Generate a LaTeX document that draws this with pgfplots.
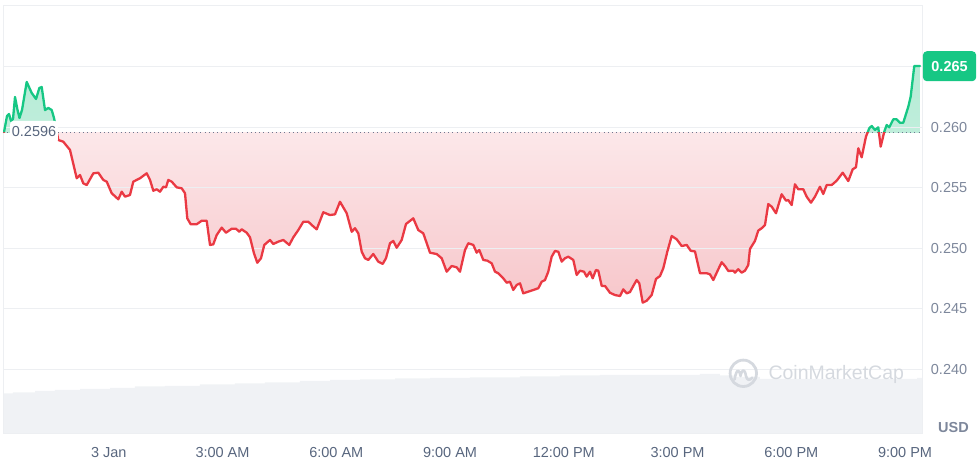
\documentclass[border=0pt]{standalone}
\usepackage{pgfplots}
\pgfplotsset{compat=1.18}
\usepackage{pgfplotstable}
\usepackage{fontspec}
\setmainfont{Liberation Sans}
\definecolor{cmcgreen}{HTML}{16C784}
\definecolor{cmcred}{HTML}{EA3943}
\definecolor{gridgray}{HTML}{EDEFF2}
\definecolor{labgray}{HTML}{7D879B}
\definecolor{labdark}{HTML}{58667E}
\definecolor{volgray}{HTML}{F0F2F5}
\definecolor{wmgray}{HTML}{D5D9DF}
\definecolor{dotgray}{HTML}{6F7890}
\definecolor{greenfill}{HTML}{B4EBD5}
\definecolor{greenlight}{HTML}{DDF6EC}
\definecolor{redfill}{HTML}{F7C6CA}
\definecolor{redlight}{HTML}{FEF5F6}

\pgfplotstableread{
h p
-2.762 0.25960
-2.683 0.26093
-2.631 0.26109
-2.578 0.26051
-2.525 0.26068
-2.472 0.26250
-2.406 0.26142
-2.354 0.26076
-2.288 0.26142
-2.164 0.26374
-2.032 0.26283
-1.918 0.26233
-1.831 0.26324
-1.768 0.26332
-1.681 0.26142
-1.594 0.26159
-1.504 0.26142
-1.444 0.26076
-1.330 0.25894
-1.199 0.25880
-1.022 0.25812
-0.845 0.25578
-0.758 0.25605
-0.671 0.25536
-0.581 0.25522
-0.407 0.25619
-0.276 0.25624
-0.144 0.25564
-0.054 0.25550
0.078 0.25454
0.252 0.25404
0.342 0.25467
0.429 0.25426
0.560 0.25440
0.647 0.25550
0.824 0.25578
1.001 0.25619
1.088 0.25564
1.175 0.25475
1.264 0.25487
1.351 0.25467
1.439 0.25508
1.510 0.25503
1.570 0.25564
1.660 0.25550
1.792 0.25503
1.924 0.25495
2.011 0.25454
2.071 0.25247
2.161 0.25198
2.319 0.25198
2.451 0.25227
2.583 0.25227
2.670 0.25027
2.757 0.25032
2.847 0.25109
2.979 0.25170
3.092 0.25128
3.242 0.25161
3.356 0.25161
3.443 0.25136
3.506 0.25156
3.638 0.25128
3.725 0.25090
3.830 0.24958
3.917 0.24880
4.015 0.24917
4.102 0.25027
4.252 0.25068
4.339 0.25035
4.471 0.25054
4.603 0.25068
4.761 0.25027
4.867 0.25090
4.999 0.25150
5.131 0.25219
5.262 0.25219
5.352 0.25192
5.484 0.25156
5.658 0.25297
5.835 0.25274
5.966 0.25280
6.098 0.25384
6.275 0.25289
6.407 0.25136
6.494 0.25165
6.581 0.25123
6.671 0.24971
6.758 0.24917
6.845 0.24903
6.976 0.24952
7.108 0.24889
7.224 0.24870
7.311 0.24917
7.417 0.25041
7.504 0.25060
7.594 0.25004
7.725 0.25068
7.839 0.25200
8.031 0.25247
8.163 0.25150
8.295 0.25123
8.472 0.24963
8.648 0.24952
8.780 0.24917
8.912 0.24806
9.044 0.24853
9.176 0.24842
9.263 0.24806
9.395 0.24985
9.482 0.25041
9.614 0.25027
9.703 0.24963
9.772 0.24985
9.877 0.24903
9.983 0.24897
10.099 0.24875
10.186 0.24806
10.273 0.24793
10.405 0.24751
10.494 0.24715
10.581 0.24723
10.668 0.24655
10.758 0.24696
10.845 0.24710
10.932 0.24627
11.064 0.24641
11.196 0.24655
11.328 0.24669
11.417 0.24723
11.504 0.24737
11.591 0.24806
11.681 0.24930
11.768 0.24977
11.855 0.24971
11.945 0.24889
12.032 0.24917
12.119 0.24930
12.251 0.24903
12.340 0.24779
12.427 0.24814
12.533 0.24806
12.604 0.24765
12.691 0.24806
12.762 0.24751
12.849 0.24820
12.910 0.24814
13.000 0.24688
13.087 0.24688
13.218 0.24632
13.350 0.24613
13.482 0.24605
13.569 0.24660
13.659 0.24627
13.746 0.24638
13.833 0.24688
13.922 0.24737
13.991 0.24710
14.081 0.24550
14.186 0.24566
14.318 0.24613
14.432 0.24746
14.537 0.24770
14.624 0.24834
14.730 0.24971
14.846 0.25101
14.977 0.25074
15.109 0.25018
15.241 0.25027
15.347 0.24979
15.460 0.24973
15.592 0.24793
15.769 0.24793
15.856 0.24784
15.943 0.24737
16.075 0.24826
16.164 0.24884
16.251 0.24853
16.338 0.24812
16.470 0.24814
16.515 0.24798
16.602 0.24826
16.691 0.24798
16.778 0.24814
16.865 0.24861
16.910 0.24994
17.042 0.25060
17.129 0.25146
17.219 0.25165
17.306 0.25192
17.393 0.25365
17.483 0.25343
17.596 0.25289
17.746 0.25446
17.860 0.25393
17.920 0.25398
18.010 0.25357
18.097 0.25528
18.184 0.25487
18.316 0.25487
18.405 0.25426
18.519 0.25376
18.624 0.25426
18.756 0.25508
18.843 0.25448
18.933 0.25522
19.065 0.25522
19.197 0.25558
19.355 0.25624
19.503 0.25555
19.619 0.25652
19.706 0.25669
19.767 0.25826
19.856 0.25751
19.969 0.25922
20.056 0.25991
20.120 0.26010
20.207 0.25977
20.294 0.25999
20.357 0.25839
20.452 0.25963
20.515 0.26018
20.584 0.25999
20.689 0.26065
20.779 0.26065
20.866 0.26037
20.953 0.26037
21.085 0.26169
21.148 0.26252
21.243 0.26506
21.393 0.26506
}\pricetable

\pgfplotstableread{
h v
-2.789 39.5
-2.526 40.5
-1.945 42
-1.418 43
-0.758 44
0.033 45
0.692 46.5
1.483 47
2.406 48.5
3.329 49.5
4.120 50.5
5.043 52
5.835 53
6.626 53.5
7.549 54.5
8.472 55
9.526 55.5
10.845 56.5
11.900 57.5
12.955 58
14.273 58
15.592 59
16.119 57.5
16.480 56
17.170 54
18.230 54
21.320 55
21.447 55
}\voltable

\pgfplotsset{
  layer/.style={at={(0pt,0pt)}, anchor=south west, scale only axis,
    width=919pt, xmin=-2.789, xmax=21.447, hide axis},
  upper/.style={layer, at={(0pt,300.95pt)}, height=127.05pt, ymin=0.2596, ymax=0.2701},
  lower/.style={layer, height=300.95pt, ymin=0.23473, ymax=0.2596},
}

\begin{document}
\begin{tikzpicture}[font=\fontsize{14.5}{17}\selectfont]
\path[use as bounding box] (-3pt,-29pt) rectangle (975pt,433pt);
% volume
\begin{axis}[layer, height=428pt, ymin=0, ymax=428]
\addplot[fill=volgray, draw=none, const plot] table[x=h,y=v]{\voltable} \closedcycle;
\end{axis}
% green area
\begin{axis}[upper]
\addplot[draw=none, top color=greenfill, bottom color=greenlight] table[x=h,y=p]{\pricetable}
  -- (axis cs:21.393,0.2590) -- (axis cs:-2.762,0.2590) -- cycle;
\end{axis}
% red area
\begin{axis}[lower]
\addplot[draw=none, top color=redlight, bottom color=redfill] table[x=h,y=p]{\pricetable}
  -- (axis cs:21.393,0.2602) -- (axis cs:-2.762,0.2602) -- cycle;
\end{axis}
% main frame, grid, labels
\begin{axis}[at={(0pt,0pt)}, anchor=south west, scale only axis,
  width=919pt, height=428pt,
  xmin=-2.789, xmax=21.447, ymin=0.23473, ymax=0.27010,
  axis line style={draw=gridgray, line width=0.8pt},
  ytick={0.240,0.245,0.250,0.255,0.260},
  extra y ticks={0.265}, extra y tick labels={},
  extra y tick style={grid=major},
  ymajorgrids, grid style={gridgray, line width=0.8pt},
  yticklabel pos=right,
  major tick length=0pt,
  tick style={draw=none},
  /pgf/number format/assume math mode=true,
  yticklabel style={anchor=west, inner sep=0pt, xshift=8.7pt, text=labgray,
    /pgf/number format/fixed, /pgf/number format/fixed zerofill,
    /pgf/number format/precision=3},
  xtick={0,3,6,9,12,15,18,21},
  xticklabels={3 Jan, 3:00 AM, 6:00 AM, 9:00 AM, 12:00 PM, 3:00 PM, 6:00 PM, 9:00 PM},
  xticklabel style={anchor=base, inner sep=0pt, yshift=-25pt, text=labdark},
]
\addplot[dotgray, line width=1pt, dash pattern=on 1pt off 3.2pt] coordinates {(-2.789,0.2596) (21.447,0.2596)};
\end{axis}
% green line
\begin{axis}[upper]
\addplot[cmcgreen, line width=2.3pt, line join=round, line cap=round] table[x=h,y=p]{\pricetable};
\end{axis}
% red line
\begin{axis}[lower]
\addplot[cmcred, line width=2.3pt, line join=round, line cap=round] table[x=h,y=p]{\pricetable};
\end{axis}
% labels
\node[anchor=west, fill=white, rounded corners=3pt, inner xsep=1.7pt, inner ysep=0pt,
  minimum height=22pt, text=labdark] at (7pt,301pt) {0.2596};
\node[anchor=west, fill=cmcgreen, rounded corners=4pt, inner xsep=8.5pt, inner ysep=0pt,
  minimum height=30pt, text=white, font=\fontsize{14.5}{17}\selectfont\bfseries] at (919.7pt,366.8pt) {0.265};
\node[anchor=base east, inner sep=0pt, text=labgray, font=\fontsize{14.5}{17}\selectfont\bfseries] at (966pt,0pt) {USD};
% watermark
\draw[wmgray, line width=2.8pt] (740.3pt,59.7pt) circle (13.2pt);
\draw[wmgray, line width=2.6pt, line join=round, line cap=round]
  (731.5pt,53.5pt) .. controls (733.5pt,64pt) and (736pt,65pt) .. (737.5pt,57pt)
  .. controls (739pt,64pt) and (741.5pt,65pt) .. (743pt,57pt)
  .. controls (744pt,52.5pt) and (746.5pt,52pt) .. (749.5pt,55.5pt);
\node[anchor=base west, inner sep=0pt, text=wmgray, font=\fontsize{19.5}{22}\selectfont] at (765.3pt,53pt) {CoinMarketCap};
\end{tikzpicture}
\end{document}
